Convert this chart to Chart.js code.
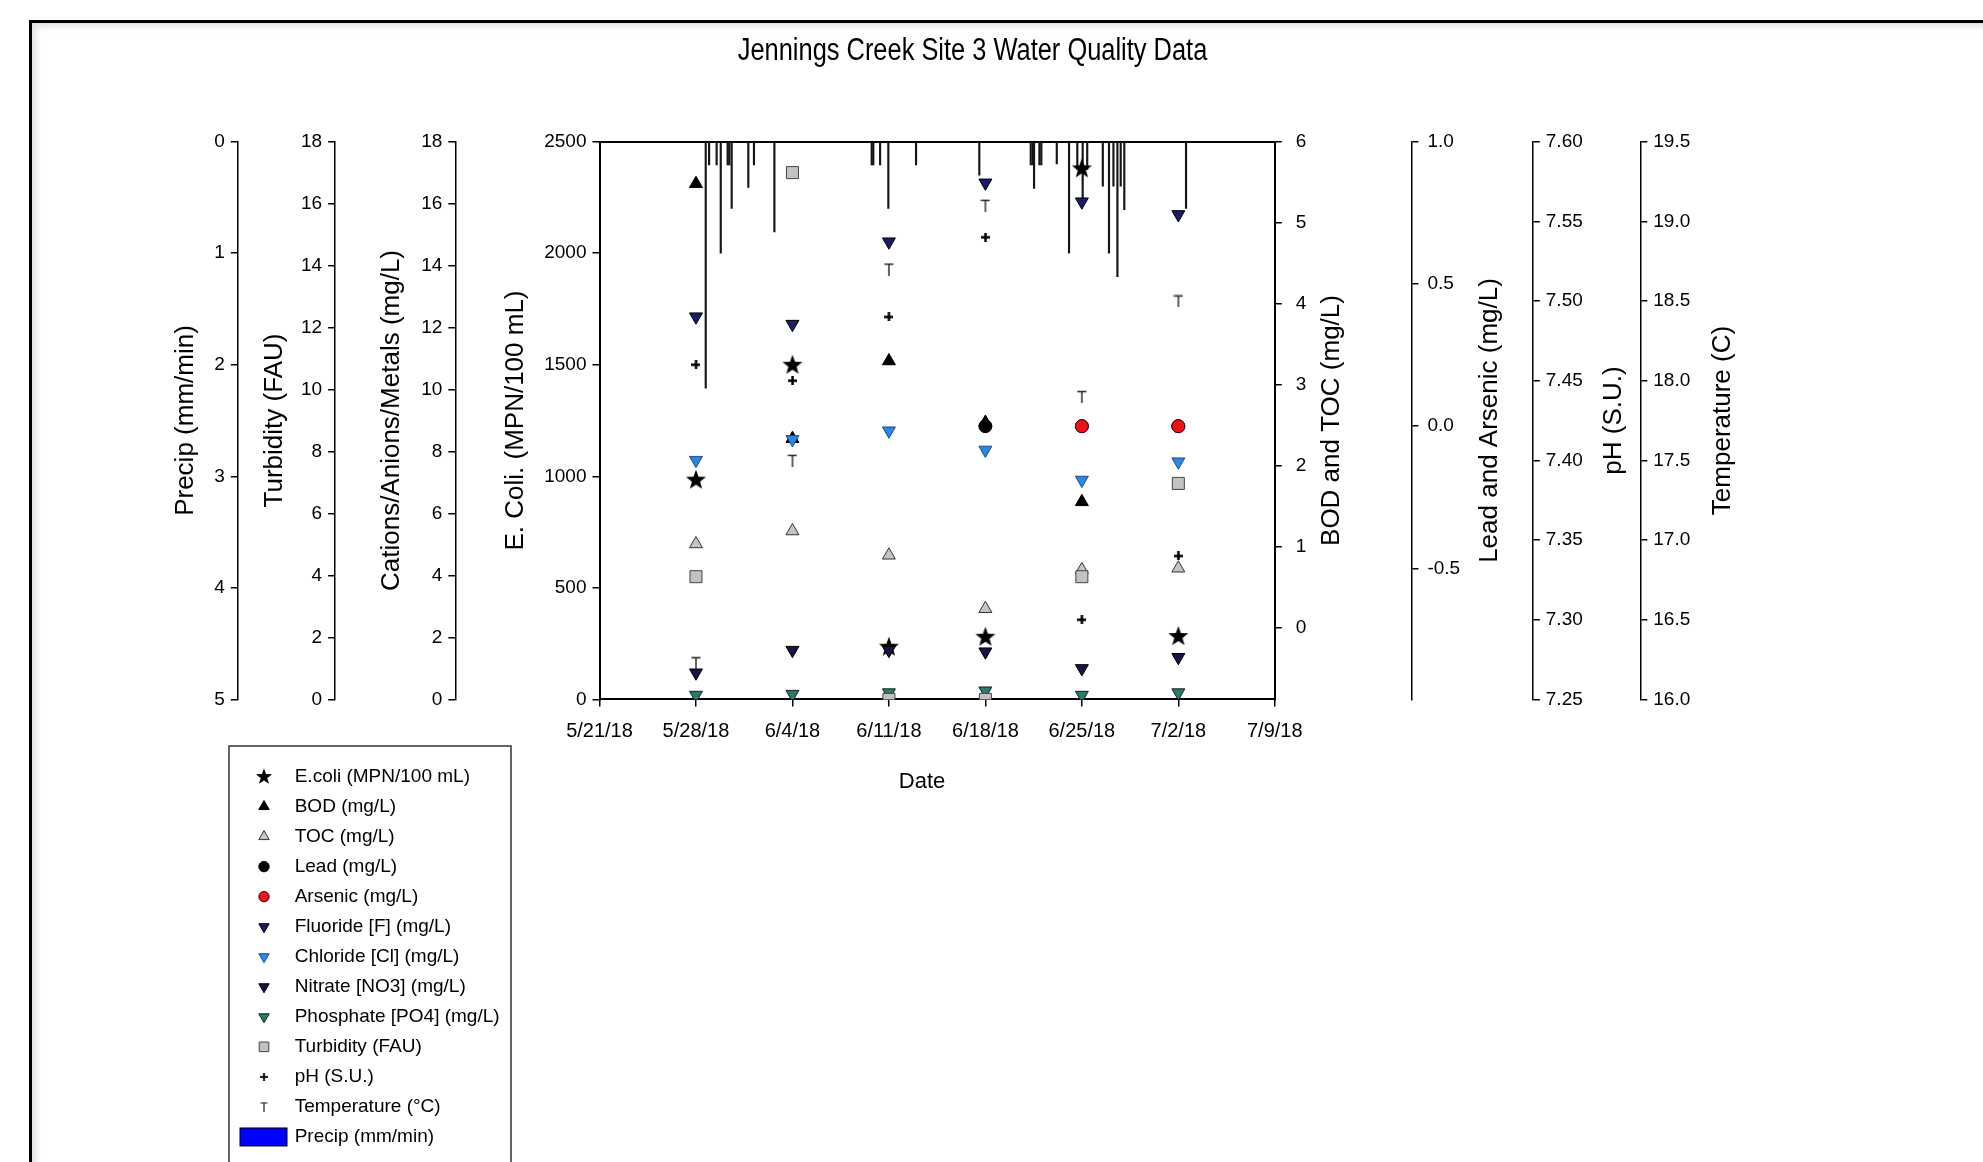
<!DOCTYPE html>
<html>
<head>
<meta charset="utf-8">
<title>Jennings Creek Site 3 Water Quality Data</title>
<script src="https://cdn.jsdelivr.net/npm/chart.js@4.4.1/dist/chart.umd.min.js"></script>
<style>
  html, body { margin: 0; padding: 0; background: #fff; overflow: hidden; }
  #frame { position: absolute; left: 29px; top: 20px; width: 2100px; height: 1300px;
           border: 3px solid #000; box-shadow: inset 4px 4px 6px rgba(0,0,0,0.12); }
  #chart { position: absolute; left: 0; top: 0; }
</style>
</head>
<body>
<div id="frame"></div>
<canvas id="chart" width="1983" height="1162"></canvas>
<script>
const FONT = '"Liberation Sans", Arial, sans-serif';
const chartTitle = "Jennings Creek Site 3 Water Quality Data";

// x axis runs weekly from 5/21/18 to 7/9/18
const dateStart = "5/21/18";
const dateEnd = "7/9/18";

// weekly grab samples
const sampleDates = ["5/28/18", "6/4/18", "6/11/18", "6/18/18", "6/25/18", "7/2/18"];

const ecoli = [985, 1500, 236, 281, 2380, 284];
const bod = [5.48, 2.33, 3.29, 2.53, 1.55, null];
const toc = [1.03, 1.19, 0.89, 0.23, 0.71, 0.73];
const lead = [null, null, null, 0.0, 0.0, 0.0];
const arsenic = [null, null, null, null, 0.0, 0.0];
const fluoride = [12.35, 12.11, 14.77, 16.67, 16.06, 15.65];
const chloride = [7.72, 8.39, 8.67, 8.05, 7.08, 7.67];
const nitrate = [0.86, 1.59, 1.59, 1.54, 1.00, 1.36];
const phosphate = [0.14, 0.17, 0.22, 0.28, 0.14, 0.22];
const turbidity = [3.96, 17.0, 0.0, 0.0, 3.96, 6.97];
const ph = [7.46, 7.45, 7.49, 7.54, 7.30, 7.34];
const temperature = [16.23, 17.50, 18.70, 19.10, 17.90, 18.50];

// rain gauge readings (mm/min)
const precipTimes = [
  "5/28/18 17:00", "5/28/18 22:50", "5/29/18 12:00", "5/29/18 19:10", "5/30/18 07:10",
  "5/30/18 10:05", "5/30/18 14:10", "5/31/18 19:10", "6/1/18 05:00", "6/2/18 16:35",
  "6/9/18 18:00", "6/9/18 20:50", "6/10/18 08:40", "6/10/18 23:00", "6/12/18 23:15",
  "6/17/18 13:25", "6/21/18 07:00", "6/21/18 10:35", "6/21/18 12:45", "6/21/18 22:05",
  "6/22/18 01:25", "6/23/18 04:20", "6/24/18 01:40", "6/24/18 16:05", "6/25/18 01:25",
  "6/25/18 09:20", "6/26/18 12:30", "6/26/18 23:15", "6/27/18 07:00", "6/27/18 13:55",
  "6/27/18 19:40", "6/28/18 01:55", "7/2/18 13:25"
];
const precipValues = [
  2.21, 0.21, 0.21, 1.00, 0.21,
  0.21, 0.60, 0.41, 0.21, 0.81,
  0.21, 0.21, 0.21, 0.60, 0.21,
  0.30, 0.21, 0.21, 0.42, 0.21,
  0.21, 0.20, 1.00, 0.25, 0.57,
  0.25, 0.40, 1.00, 0.40, 1.21,
  0.40, 0.61, 0.60
];

function parseDate(s) {
  const [d, t] = s.split(" ");
  const [m, dd, yy] = d.split("/").map(Number);
  const [hh, mi] = (t || "0:00").split(":").map(Number);
  return new Date(2000 + yy, m - 1, dd, hh, mi);
}
const START = parseDate(dateStart);
function dayOf(s) {
  return (parseDate(s) - START) / 86400000;
}
function dateLabel(v) {
  const d = new Date(START.getTime() + Math.round(v) * 86400000);
  return (d.getMonth() + 1) + "/" + d.getDate() + "/" + String(d.getFullYear()).slice(2);
}

const sampleDays = sampleDates.map(dayOf);

// custom marker images: filled star, "T" and bold plus
function makeCanvas(w, h, draw) {
  const c = document.createElement("canvas");
  c.width = w;
  c.height = h;
  draw(c.getContext("2d"));
  return c;
}
const starImg = makeCanvas(22, 22, g => {
  const R = 10.5, r = 4.3, cx = 11, cy = 11.6;
  g.beginPath();
  for (let i = 0; i < 10; i++) {
    const rad = i % 2 ? r : R;
    const a = -Math.PI / 2 + i * Math.PI / 5;
    g.lineTo(cx + rad * Math.cos(a), cy + rad * Math.sin(a));
  }
  g.closePath();
  g.fillStyle = "#000";
  g.fill();
});
const tImg = makeCanvas(10, 13, g => {
  g.strokeStyle = "#222";
  g.lineWidth = 1.4;
  g.beginPath();
  g.moveTo(0.5, 1.5);
  g.lineTo(9.5, 1.5);
  g.moveTo(5, 1.5);
  g.lineTo(5, 13);
  g.stroke();
});
const plusImg = makeCanvas(9, 9, g => {
  g.fillStyle = "#000";
  g.fillRect(3.3, 0, 2.5, 9);
  g.fillRect(0, 3.3, 9, 2.5);
});

function series(label, values, axis, order, style) {
  return Object.assign({
    type: "scatter",
    label: label,
    yAxisID: axis,
    showLine: false,
    order: order,
    data: sampleDays.map((x, i) => ({ x: x, y: values[i] })).filter(p => p.y !== null),
    pointBorderWidth: 1,
    pointRotation: 0
  }, style);
}

const markerSets = [
  series("E.coli (MPN/100 mL)", ecoli, "y", 100, { pointStyle: starImg, pointRadius: 9 }),
  series("BOD (mg/L)", bod, "bod", 99, { pointStyle: "triangle", pointRadius: 7.5, pointBackgroundColor: "#000", pointBorderColor: "#000" }),
  series("TOC (mg/L)", toc, "bod", 98, { pointStyle: "triangle", pointRadius: 7.5, pointBackgroundColor: "#c4c4c4", pointBorderColor: "#333" }),
  series("Lead (mg/L)", lead, "lead", 97, { pointStyle: "circle", pointRadius: 6.5, pointBackgroundColor: "#000", pointBorderColor: "#000" }),
  series("Arsenic (mg/L)", arsenic, "lead", 96, { pointStyle: "circle", pointRadius: 6.5, pointBackgroundColor: "#e8141c", pointBorderColor: "#5a0000" }),
  series("Fluoride [F] (mg/L)", fluoride, "cat", 95, { pointStyle: "triangle", pointRotation: 180, pointRadius: 7.5, pointBackgroundColor: "#1c1c66", pointBorderColor: "#000" }),
  series("Chloride [Cl] (mg/L)", chloride, "cat", 94, { pointStyle: "triangle", pointRotation: 180, pointRadius: 7.5, pointBackgroundColor: "#2f86e0", pointBorderColor: "#1d4c8c" }),
  series("Nitrate [NO3] (mg/L)", nitrate, "cat", 93, { pointStyle: "triangle", pointRotation: 180, pointRadius: 7.5, pointBackgroundColor: "#15154a", pointBorderColor: "#000" }),
  series("Phosphate [PO4] (mg/L)", phosphate, "cat", 92, { pointStyle: "triangle", pointRotation: 180, pointRadius: 7.5, pointBackgroundColor: "#2b7a6a", pointBorderColor: "#122" }),
  series("Turbidity (FAU)", turbidity, "turb", 91, { pointStyle: "rect", pointRadius: 8.5, pointBackgroundColor: "#c2c2c2", pointBorderColor: "#444" }),
  series("pH (S.U.)", ph, "ph", 90, { pointStyle: plusImg, pointRadius: 5 }),
  series("Temperature (°C)", temperature, "temp", 89, { pointStyle: tImg, pointRadius: 6 })
];

const precipSet = {
  type: "bar",
  label: "Precip (mm/min)",
  yAxisID: "precip",
  order: 200,
  data: precipTimes.map((t, i) => ({ x: dayOf(t), y: precipValues[i] })),
  backgroundColor: "#161616",
  borderWidth: 0,
  barThickness: 1.5,
  legendColor: "#0000ff"
};

const tickFont = { family: FONT, size: 19 };
const titleFont = { family: FONT, size: 26 };

function yScale(o) {
  const from = o.from !== undefined ? o.from : o.min;
  return {
    type: "linear",
    position: o.pos,
    weight: o.weight,
    min: o.min,
    max: o.max,
    reverse: !!o.reverse,
    ticks: {
      stepSize: o.step,
      font: tickFont,
      color: "#000",
      padding: o.pad !== undefined ? o.pad : 6,
      callback: v => (o.fmt !== undefined ? v.toFixed(o.fmt) : String(Math.round(v)))
    },
    grid: { display: true, drawOnChartArea: false, drawTicks: true, tickLength: 7, color: "#000", lineWidth: 1.5 },
    border: { display: true, color: "#000", width: o.bw || 1.5 },
    title: o.title
      ? { display: true, text: o.title, font: titleFont, color: "#000", padding: { top: o.titlePad, bottom: 0 } }
      : { display: false },
    afterBuildTicks: s => { s.ticks = s.ticks.filter(t => t.value >= from - 1e-9); },
    afterFit: s => { s.width = o.width; }
  };
}

// right hand axis titles read bottom-to-top like the left ones
const rightAxisTitles = [
  { id: "bod", text: "BOD and TOC (mg/L)", dx: 57 },
  { id: "lead", text: "Lead and Arsenic (mg/L)", dx: 78.4 },
  { id: "ph", text: "pH (S.U.)", dx: 81 },
  { id: "temp", text: "Temperature (C)", dx: 82.2 }
];

const extraText = {
  id: "extraText",
  afterDraw(chart) {
    const ctx = chart.ctx;
    ctx.save();
    ctx.fillStyle = "#000";
    ctx.textAlign = "center";
    ctx.textBaseline = "middle";
    // condensed chart title
    ctx.save();
    ctx.translate(972.5, 51);
    ctx.scale(0.82, 1);
    ctx.font = "31px " + FONT;
    ctx.fillText(chartTitle, 0, 0);
    ctx.restore();
    // x axis title sits a little left of the plot centre
    ctx.font = "22px " + FONT;
    ctx.fillText("Date", 922, 782);
    ctx.font = "26px " + FONT;
    rightAxisTitles.forEach(t => {
      const s = chart.scales[t.id];
      ctx.save();
      ctx.translate(s.left + t.dx, (s.top + s.bottom) / 2);
      ctx.rotate(-Math.PI / 2);
      ctx.fillText(t.text, 0, 0);
      ctx.restore();
    });
    ctx.restore();
  }
};

function drawMarker(ctx, ds, x, y, k) {
  const st = ds.pointStyle;
  const r = ds.pointRadius * k;
  ctx.save();
  ctx.translate(x, y);
  if (typeof st !== "string") {
    ctx.drawImage(st, -st.width * k / 2, -st.height * k / 2, st.width * k, st.height * k);
    ctx.restore();
    return;
  }
  ctx.fillStyle = ds.pointBackgroundColor;
  ctx.strokeStyle = ds.pointBorderColor;
  ctx.lineWidth = ds.pointBorderWidth;
  ctx.beginPath();
  if (st === "circle") {
    ctx.arc(0, 0, r, 0, 2 * Math.PI);
  } else if (st === "rect") {
    const h = r * Math.SQRT1_2;
    ctx.rect(-h, -h, 2 * h, 2 * h);
  } else {
    ctx.rotate((ds.pointRotation || 0) * Math.PI / 180);
    for (let i = 0; i < 3; i++) {
      const a = i * 2 * Math.PI / 3;
      ctx.lineTo(Math.sin(a) * r, -Math.cos(a) * r);
    }
    ctx.closePath();
  }
  ctx.fill();
  ctx.stroke();
  ctx.restore();
}

// boxed legend below the plot, on the left
const legendBox = {
  id: "legendBox",
  afterDraw(chart) {
    const ctx = chart.ctx;
    const x0 = 229, y0 = 746, rowH = 30.04, firstRow = 776.5;
    ctx.save();
    ctx.strokeStyle = "#333";
    ctx.lineWidth = 1.5;
    ctx.strokeRect(x0, y0, 282, 460);
    ctx.font = "19px " + FONT;
    ctx.fillStyle = "#000";
    ctx.textBaseline = "middle";
    markerSets.forEach((ds, i) => {
      const y = firstRow + i * rowH;
      drawMarker(ctx, ds, 264, y, 0.8);
      ctx.fillStyle = "#000";
      ctx.fillText(ds.label, 294.7, y);
    });
    const y = firstRow + markerSets.length * rowH;
    ctx.fillStyle = precipSet.legendColor;
    ctx.fillRect(240, y - 9, 47, 18);
    ctx.strokeStyle = "#000";
    ctx.lineWidth = 1;
    ctx.strokeRect(240, y - 9, 47, 18);
    ctx.fillStyle = "#000";
    ctx.fillText(precipSet.label, 294.7, y);
    ctx.restore();
  }
};

new Chart(document.getElementById("chart"), {
  type: "scatter",
  data: { datasets: markerSets.concat([precipSet]) },
  options: {
    responsive: false,
    animation: false,
    devicePixelRatio: 1,
    events: [],
    layout: { padding: { left: 140, right: 179, top: 141.6, bottom: 352.6 } },
    plugins: {
      legend: { display: false },
      tooltip: { enabled: false },
      title: { display: false }
    },
    scales: {
      x: {
        type: "linear",
        position: "bottom",
        min: dayOf(dateStart),
        max: dayOf(dateEnd),
        offset: false,
        ticks: { stepSize: 7, font: { family: FONT, size: 20 }, color: "#000", padding: 12.6, maxRotation: 0, autoSkip: false, callback: dateLabel },
        grid: { display: true, offset: false, drawOnChartArea: false, drawTicks: true, tickLength: 7, color: "#000", lineWidth: 1.5 },
        border: { display: true, color: "#000", width: 2 },
        title: { display: false },
        afterFit: s => { s.height = 110; }
      },
      xTop: {
        type: "linear",
        position: "top",
        ticks: { display: false },
        grid: { display: false },
        border: { display: true, color: "#000", width: 2 },
        afterFit: s => { s.height = 0; }
      },
      y: yScale({ pos: "left", weight: 0, width: 144.2, min: 0, max: 2500, step: 500, title: "E. Coli. (MPN/100 mL)", titlePad: 45.1, bw: 2 }),
      cat: yScale({ pos: "left", weight: 1, width: 120.2, min: 0, max: 18, step: 2, title: "Cations/Anions/Metals (mg/L)", titlePad: 41.3 }),
      turb: yScale({ pos: "left", weight: 2, width: 97.3, min: 0, max: 18, step: 2, title: "Turbidity (FAU)", titlePad: 21 }),
      precip: yScale({ pos: "left", weight: 3, width: 97.8, min: 0, max: 5, step: 1, reverse: true, title: "Precip (mm/min)", titlePad: 30.4 }),
      bod: yScale({ pos: "right", weight: 0, width: 136.6, min: -0.89, max: 6, step: 1, from: 0, pad: 14, bw: 2 }),
      lead: yScale({ pos: "right", weight: 1, width: 121.4, min: -0.96, max: 1, step: 0.5, from: -0.5, fmt: 1, pad: 9 }),
      ph: yScale({ pos: "right", weight: 2, width: 107.5, min: 7.25, max: 7.6, step: 0.05, fmt: 2 }),
      temp: yScale({ pos: "right", weight: 3, width: 163.7, min: 16, max: 19.5, step: 0.5, fmt: 1 })
    }
  },
  plugins: [extraText, legendBox]
});
</script>
</body>
</html>
